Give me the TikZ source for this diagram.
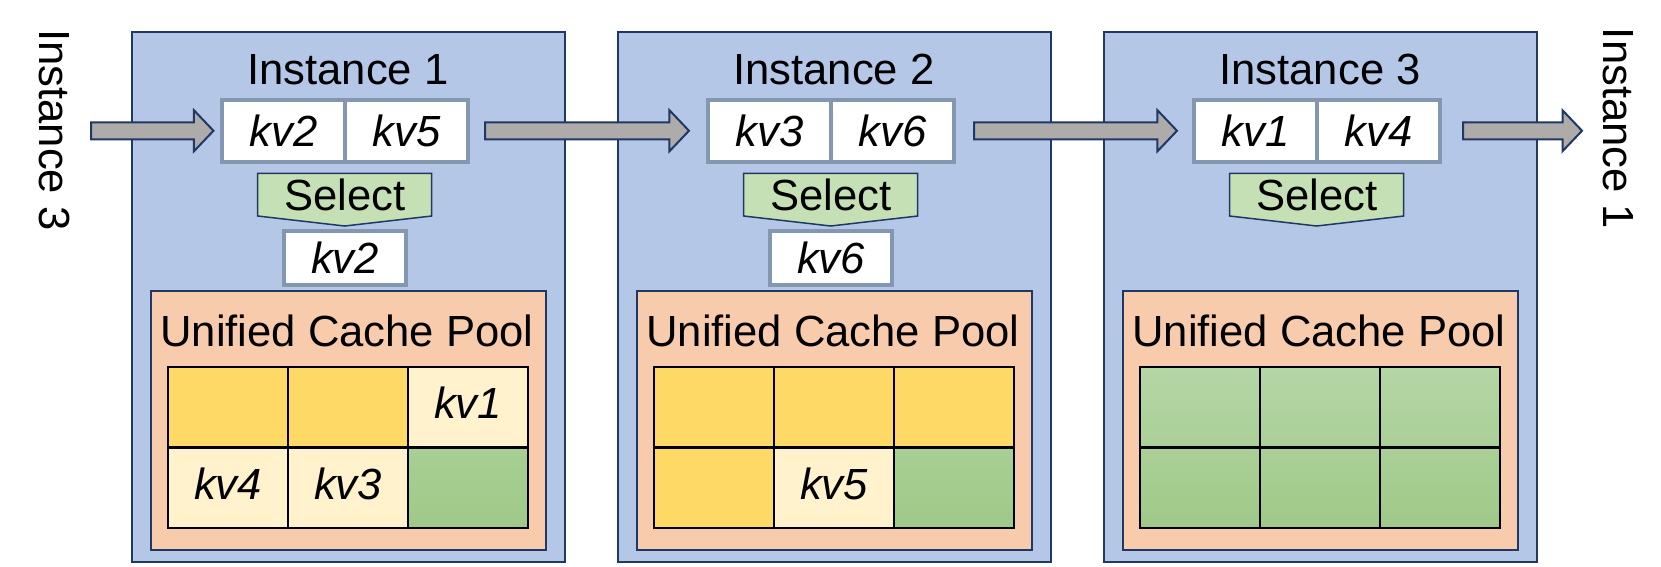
\documentclass[tikz,border=0pt]{standalone}
\usepackage{fontspec}
\setmainfont{Liberation Sans}
\usetikzlibrary{calc}

\definecolor{instblue}{HTML}{B4C7E7}
\definecolor{navy}{HTML}{203864}
\definecolor{poolpeach}{HTML}{F8CBAD}
\definecolor{usedyellow}{HTML}{FFD966}
\definecolor{paleyellow}{HTML}{FFF2CC}
\definecolor{greentop}{HTML}{B5D6A6}
\definecolor{greenmid}{HTML}{A8CF94}
\definecolor{greenbot}{HTML}{9FC988}
\definecolor{selgreen}{HTML}{C5E0B4}
\definecolor{kvgray}{HTML}{8497B0}
\definecolor{arrowgray}{HTML}{AFABAB}

\tikzset{
	instbox/.style={draw=navy, fill=instblue, line width=0.02cm, minimum width=4.33cm, minimum height=5.296cm, inner sep=0},
	poolbox/.style={draw=navy, fill=poolpeach, line width=0.02cm, minimum width=3.947cm, minimum height=2.58cm, inner sep=0},
	kvcell/.style={draw=kvgray, fill=white, line width=0.04cm, minimum width=1.23cm, minimum height=0.615cm, inner sep=0, outer sep=0, font=\itshape},
	kvpick/.style={kvcell, minimum width=1.226cm, minimum height=0.54cm},
	selshape/.style={draw=navy, fill=selgreen, line width=0.015cm},
	gridline/.style={line width=0.022cm},
	arrowbody/.style={draw=navy, fill=arrowgray, line width=0.02cm},
	sidelabel/.style={rotate=-90, inner sep=0},
}

% block arrow from tail coordinate #1 to tip coordinate #2
\newcommand{\flowarrow}[2]{%
	\filldraw[arrowbody] ($(#1)+(0,-8.5)$) -- ($(#2)+(-19.5,-8.5)$) -- ($(#2)+(-19.5,-20.5)$) -- (#2)
	-- ($(#2)+(-19.5,20.5)$) -- ($(#2)+(-19.5,8.5)$) -- ($(#1)+(0,8.5)$) -- cycle;}

\begin{document}
\fontsize{12.4pt}{14.9pt}\selectfont
\begin{tikzpicture}[x=0.01cm,y=-0.01cm]
	\useasboundingbox (0,0) rectangle (1661,566);
	
	%instance boxes
	\node[instbox] (inst1) at (348.2,297.2) {};
	\node[instbox] (inst2) at (834.2,297.2) {};
	\node[instbox] (inst3) at (1320.2,297.2) {};
	
	%titles
	\node (title1) at (348,69.5) {Instance 1};
	\node (title2) at (834,69.5) {Instance 2};
	\node (title3) at (1320,69.5) {Instance 3};
	
	%kv pairs
	\node[kvcell] (p1a) at (283.5,130.75) {kv2};
	\node[kvcell] (p1b) at (406.5,130.75) {kv5};
	\node[kvcell] (p2a) at (769.5,130.75) {kv3};
	\node[kvcell] (p2b) at (892.5,130.75) {kv6};
	\node[kvcell] (p3a) at (1255.5,130.75) {kv1};
	\node[kvcell] (p3b) at (1378.5,130.75) {kv4};
	
	%select
	\filldraw[selshape] (257.7,173.3) -- (431.7,173.3) -- (431.7,216) -- (344.7,226) -- (257.7,216) -- cycle;
	\filldraw[selshape] (743.7,173.3) -- (917.7,173.3) -- (917.7,216) -- (830.7,226) -- (743.7,216) -- cycle;
	\filldraw[selshape] (1229.7,173.3) -- (1403.7,173.3) -- (1403.7,216) -- (1316.7,226) -- (1229.7,216) -- cycle;
	\node (sel1) at (344.7,195) {Select};
	\node (sel2) at (830.7,195) {Select};
	\node (sel3) at (1316.7,195) {Select};
	
	%picked kv
	\node[kvpick] (pick1) at (345,258) {kv2};
	\node[kvpick] (pick2) at (831,258) {kv6};
	
	%pools
	\node[poolbox] (pool1) at (348.4,420.5) {};
	\node[poolbox] (pool2) at (834.4,420.5) {};
	\node[poolbox] (pool3) at (1320.4,420.5) {};
	\node (ptitle1) at (347,331) {Unified Cache Pool};
	\node (ptitle2) at (833,331) {Unified Cache Pool};
	\node (ptitle3) at (1319,331) {Unified Cache Pool};
	
	%cells - instance 1
	\fill[usedyellow] (168,367) rectangle (408,447.5);
	\fill[paleyellow] (408,367) rectangle (528,447.5);
	\fill[paleyellow] (168,447.5) rectangle (408,528);
	\shade[top color=greenmid, bottom color=greenbot] (408,447.5) rectangle (528,528);
	%cells - instance 2
	\fill[usedyellow] (654,367) rectangle (1014,447.5);
	\fill[usedyellow] (654,447.5) rectangle (774,528);
	\fill[paleyellow] (774,447.5) rectangle (894,528);
	\shade[top color=greenmid, bottom color=greenbot] (894,447.5) rectangle (1014,528);
	%cells - instance 3
	\shade[top color=greentop, bottom color=greenbot] (1140,367) rectangle (1500,528);
	
	%grid lines
	\draw[gridline] (168,367) rectangle (528,528);
	\draw[gridline] (168,447.5) -- (528,447.5) (288,367) -- (288,528) (408,367) -- (408,528);
	\draw[gridline] (654,367) rectangle (1014,528);
	\draw[gridline] (654,447.5) -- (1014,447.5) (774,367) -- (774,528) (894,367) -- (894,528);
	\draw[gridline] (1140,367) rectangle (1500,528);
	\draw[gridline] (1140,447.5) -- (1500,447.5) (1260,367) -- (1260,528) (1380,367) -- (1380,528);
	
	%cell labels
	\node[font=\itshape] (c1kv1) at (468,403) {kv1};
	\node[font=\itshape] (c1kv4) at (228,484) {kv4};
	\node[font=\itshape] (c1kv3) at (348,484) {kv3};
	\node[font=\itshape] (c2kv5) at (834,484) {kv5};
	
	%side labels
	\node[sidelabel] (left) at (54.5,130) {Instance 3};
	\node[sidelabel] (right) at (1618,128.5) {Instance 1};
	
	%arrows
	\coordinate (a0t) at (91,130.75);
	\coordinate (a0h) at ($(p1a.west)+(-8.5,0)$);
	\coordinate (a1t) at ($(p1b.east)+(17,0)$);
	\coordinate (a1h) at ($(p2a.west)+(-19,0)$);
	\coordinate (a2t) at ($(p2b.east)+(20,0)$);
	\coordinate (a2h) at ($(p3a.west)+(-17,0)$);
	\coordinate (a3t) at ($(p3b.east)+(23,0)$);
	\coordinate (a3h) at (1582,130.75);
	\flowarrow{a0t}{a0h}
	\flowarrow{a1t}{a1h}
	\flowarrow{a2t}{a2h}
	\flowarrow{a3t}{a3h}
\end{tikzpicture}
\end{document}
